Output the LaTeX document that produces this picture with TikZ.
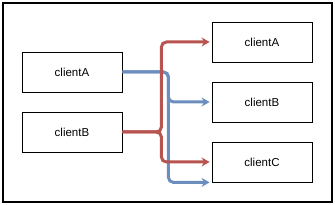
\documentclass[tikz,border=0pt]{standalone}
\usepackage{fontspec}
\setmainfont{Liberation Sans}
\usetikzlibrary{arrows.meta,calc}
\definecolor{cred}{HTML}{B85450}
\definecolor{cblue}{HTML}{6C8EBF}
\tikzset{
  box/.style={draw=black, line width=0.8pt, fill=white, minimum width=100pt, minimum height=40pt, inner sep=0pt, font=\fontsize{11.5}{13}\selectfont},
  conn/.style={line width=3pt, rounded corners=5pt, -{Stealth[length=8pt,width=9pt]}},
}
\begin{document}
\begin{tikzpicture}[x=1pt,y=-1pt]
\useasboundingbox (0,0) rectangle (335,205);
\draw[line width=1.1pt] (3,3) rectangle (332,202);
\node[box] (lA) at (72,72) {clientA};
\node[box] (lB) at (72,132) {clientB};
\node[box] (rA) at (262,42) {clientA};
\node[box] (rB) at (262,102) {clientB};
\node[box] (rC) at (262,162) {clientC};
\draw[conn, cblue] (lA.east) -- ++(46,0) |- ($(rB.west)+(-2,0)$);
\draw[conn, cblue] (lA.east) -- ++(46,0) |- ($(rC.south west)+(-2,0)$);
\draw[conn, cred] (lB.east) -- ++(39,0) |- ($(rA.west)+(-2,0)$);
\draw[conn, cred] (lB.east) -- ++(39,0) |- ($(rC.west)+(-2,0)$);
\end{tikzpicture}
\end{document}
